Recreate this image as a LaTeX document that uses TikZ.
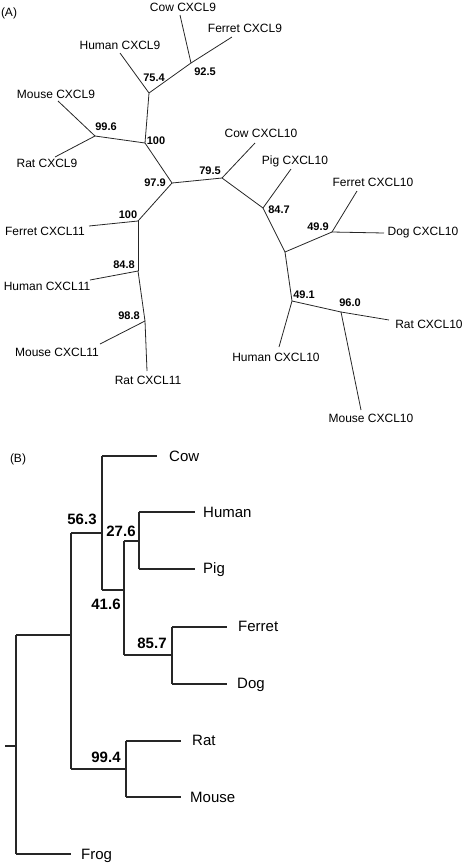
\documentclass[tikz,border=0pt]{standalone}
\usepackage{fontspec}
\setmainfont{Liberation Sans}
\begin{document}
\begin{tikzpicture}[x=1pt,y=-1pt,
  br/.style={draw=black!85,line width=0.8pt},
  brB/.style={draw=black!85,line width=1.1pt},
  leafA/.style={font=\fontsize{12}{12}\selectfont,inner sep=0pt,text height=8.6pt,text depth=0pt},
  bsA/.style={font=\fontsize{11}{11}\selectfont\bfseries,inner sep=0pt,text height=7.9pt,text depth=0pt},
  leafB/.style={font=\fontsize{15}{15}\selectfont,inner sep=0pt,anchor=west,text height=10.8pt,text depth=0pt},
  bsB/.style={font=\fontsize{15}{15}\selectfont\bfseries,inner sep=0pt,text height=10.8pt,text depth=0pt},
  panel/.style={font=\fontsize{12}{12}\selectfont,inner sep=0pt,text height=8.6pt,text depth=0pt}]
\useasboundingbox (0,0) rectangle (463,863);
% ================= Panel A =================
\node[panel] (labA) at (9,12) {(A)};
% internal nodes
\coordinate (n925) at (191,63);
\coordinate (n754) at (149,93);
\coordinate (n100a) at (145,143);
\coordinate (n996) at (95,136);
\coordinate (n979) at (172,183);
\coordinate (n795) at (222,178);
\coordinate (n100b) at (138,221);
\coordinate (n848) at (138,271);
\coordinate (n988) at (145,321);
\coordinate (n847) at (263,208);
\coordinate (nX) at (285,252);
\coordinate (n499) at (332,232);
\coordinate (n491) at (292,301);
\coordinate (n960) at (341,312);
% leaf tips
\coordinate (cow9) at (180,15);
\coordinate (fer9) at (232,37);
\coordinate (hum9) at (120,53);
\coordinate (mou9) at (58,101);
\coordinate (rat9) at (55,157);
\coordinate (fer11) at (89,226);
\coordinate (hum11) at (90,280);
\coordinate (mou11) at (100,344);
\coordinate (rat11) at (147,371);
\coordinate (cow10) at (255,143);
\coordinate (pig10) at (291,169);
\coordinate (fer10) at (357,191);
\coordinate (dog10) at (384,233);
\coordinate (hum10) at (279,347);
\coordinate (rat10) at (389,320);
\coordinate (mou10) at (361,410);
% branches
\draw[br] (n925) -- (cow9);
\draw[br] (n925) -- (fer9);
\draw[br] (n925) -- (n754);
\draw[br] (n754) -- (hum9);
\draw[br] (n754) -- (n100a);
\draw[br] (n100a) -- (n996);
\draw[br] (n996) -- (mou9);
\draw[br] (n996) -- (rat9);
\draw[br] (n100a) -- (n979);
\draw[br] (n979) -- (n795);
\draw[br] (n979) -- (n100b);
\draw[br] (n100b) -- (fer11);
\draw[br] (n100b) -- (n848);
\draw[br] (n848) -- (hum11);
\draw[br] (n848) -- (n988);
\draw[br] (n988) -- (mou11);
\draw[br] (n988) -- (rat11);
\draw[br] (n795) -- (cow10);
\draw[br] (n795) -- (n847);
\draw[br] (n847) -- (pig10);
\draw[br] (n847) -- (nX);
\draw[br] (nX) -- (n499);
\draw[br] (n499) -- (fer10);
\draw[br] (n499) -- (dog10);
\draw[br] (nX) -- (n491);
\draw[br] (n491) -- (hum10);
\draw[br] (n491) -- (n960);
\draw[br] (n960) -- (rat10);
\draw[br] (n960) -- (mou10);
% leaf labels
\node[leafA] (tcow9) at (183,7) {Cow CXCL9};
\node[leafA] (tfer9) at (245,28) {Ferret CXCL9};
\node[leafA] (thum9) at (120,45) {Human CXCL9};
\node[leafA] (tmou9) at (56,94) {Mouse CXCL9};
\node[leafA] (trat9) at (47,163) {Rat CXCL9};
\node[leafA] (tfer11) at (45,231) {Ferret CXCL11};
\node[leafA] (thum11) at (47,286) {Human CXCL11};
\node[leafA] (tmou11) at (57,352) {Mouse CXCL11};
\node[leafA] (trat11) at (148,380) {Rat CXCL11};
\node[leafA] (tcow10) at (261,133) {Cow CXCL10};
\node[leafA] (tpig10) at (295,160) {Pig CXCL10};
\node[leafA] (tfer10) at (373,182) {Ferret CXCL10};
\node[leafA] (tdog10) at (423,231) {Dog CXCL10};
\node[leafA] (thum10) at (276,357) {Human CXCL10};
\node[leafA] (trat10) at (429,324) {Rat CXCL10};
\node[leafA] (tmou10) at (371,418) {Mouse CXCL10};
% bootstrap values
\node[bsA] (b925) at (205,72) {92.5};
\node[bsA] (b754) at (154,78) {75.4};
\node[bsA] (b996) at (106,127) {99.6};
\node[bsA] (b100a) at (156,141) {100};
\node[bsA] (b979) at (155,183) {97.9};
\node[bsA] (b795) at (210,171) {79.5};
\node[bsA] (b100b) at (128,215) {100};
\node[bsA] (b848) at (124,265) {84.8};
\node[bsA] (b988) at (129,316) {98.8};
\node[bsA] (b847) at (279,210) {84.7};
\node[bsA] (b499) at (318,227) {49.9};
\node[bsA] (b491) at (304,295) {49.1};
\node[bsA] (b960) at (350,303) {96.0};
% ================= Panel B =================
\node[panel] (labB) at (18,458) {(B)};
\coordinate (rstub) at (5,746);
\coordinate (root) at (16,746);
\coordinate (rtop) at (16,635);
\coordinate (rbot) at (16,854);
\coordinate (ing) at (71,635);
\coordinate (frogtip) at (71,854);
\coordinate (a563) at (71,533);
\coordinate (a994) at (71,769);
\coordinate (k563) at (102,533);
\coordinate (kcow) at (102,456);
\coordinate (k416) at (102,590);
\coordinate (cowtip) at (157,456);
\coordinate (c416) at (124,590);
\coordinate (c276) at (124,541);
\coordinate (c857) at (124,655);
\coordinate (d276) at (139,541);
\coordinate (dhum) at (139,512);
\coordinate (dpig) at (139,569);
\coordinate (humtip) at (195,512);
\coordinate (pigtip) at (195,569);
\coordinate (e857) at (172,655);
\coordinate (efer) at (172,627);
\coordinate (edog) at (172,684);
\coordinate (fertip) at (227,627);
\coordinate (dogtip) at (227,684);
\coordinate (f994) at (126,769);
\coordinate (frat) at (126,741);
\coordinate (fmou) at (126,797);
\coordinate (rattip) at (181,741);
\coordinate (moutip) at (181,797);
\draw[brB] (rstub) -- (root);
\draw[brB] (rtop) -- (rbot);
\draw[brB] (rtop) -- (ing);
\draw[brB] (rbot) -- (frogtip);
\draw[brB] (a563) -- (a994);
\draw[brB] (a563) -- (k563);
\draw[brB] (kcow) -- (k416);
\draw[brB] (kcow) -- (cowtip);
\draw[brB] (k416) -- (c416);
\draw[brB] (c276) -- (c857);
\draw[brB] (c276) -- (d276);
\draw[brB] (dhum) -- (dpig);
\draw[brB] (dhum) -- (humtip);
\draw[brB] (dpig) -- (pigtip);
\draw[brB] (c857) -- (e857);
\draw[brB] (efer) -- (edog);
\draw[brB] (efer) -- (fertip);
\draw[brB] (edog) -- (dogtip);
\draw[brB] (a994) -- (f994);
\draw[brB] (frat) -- (fmou);
\draw[brB] (frat) -- (rattip);
\draw[brB] (fmou) -- (moutip);
\node[leafB] (tcow) at (169,456) {Cow};
\node[leafB] (thum) at (203,512) {Human};
\node[leafB] (tpig) at (203,568) {Pig};
\node[leafB] (tfer) at (238,626) {Ferret};
\node[leafB] (tdog) at (237,683) {Dog};
\node[leafB] (trat) at (192,740) {Rat};
\node[leafB] (tmou) at (190,797) {Mouse};
\node[leafB] (tfrog) at (81,854) {Frog};
\node[bsB] (b563) at (82,519) {56.3};
\node[bsB] (b276) at (121,531) {27.6};
\node[bsB] (b416) at (106,604) {41.6};
\node[bsB] (b857) at (152,643) {85.7};
\node[bsB] (b994) at (106,757) {99.4};
\end{tikzpicture}
\end{document}
